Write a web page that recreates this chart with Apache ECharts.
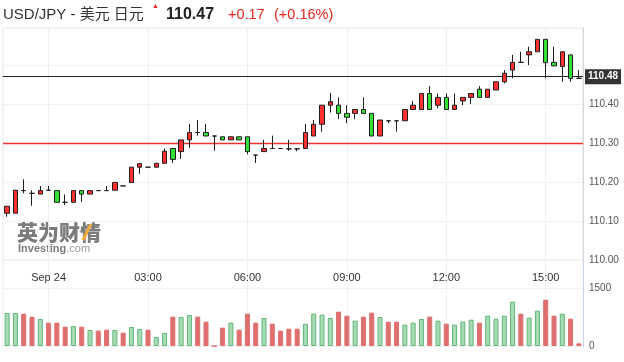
<!DOCTYPE html>
<html>
<head>
<meta charset="utf-8">
<script src="https://cdn.jsdelivr.net/npm/echarts@6/dist/echarts.min.js"></script>
<style>
html,body{margin:0;padding:0;background:#fff;}
#c{width:624px;height:362px;}
</style>
</head>
<body>
<div id="c"></div>
<script>
const times = ['22:45','23:00','23:15','23:30','23:45',
'00:00','00:15','00:30','00:45','01:00','01:15','01:30','01:45','02:00','02:15','02:30','02:45',
'03:00','03:15','03:30','03:45','04:00','04:15','04:30','04:45','05:00','05:15','05:30','05:45',
'06:00','06:15','06:30','06:45','07:00','07:15','07:30','07:45','08:00','08:15','08:30','08:45',
'09:00','09:15','09:30','09:45','10:00','10:15','10:30','10:45','11:00','11:15','11:30','11:45',
'12:00','12:15','12:30','12:45','13:00','13:15','13:30','13:45','14:00','14:15','14:30','14:45',
'15:00','15:15','15:30','15:45','16:00'];
const tickTimes = ['00:00','03:00','06:00','09:00','12:00','15:00'];
const dayLabel = 'Sep 24';

const open = [110.120,110.120,110.178,110.171,110.169,110.179,110.178,110.148,110.148,110.178,
110.169,110.178,110.178,110.179,110.190,110.199,110.238,110.238,110.238,110.248,
110.286,110.278,110.308,110.327,110.327,110.318,110.316,110.308,110.316,110.316,
110.269,110.278,110.286,110.286,110.285,110.285,110.286,110.318,110.348,110.397,
110.397,110.376,110.376,110.386,110.376,110.318,110.357,110.357,110.357,110.386,
110.386,110.427,110.397,110.417,110.386,110.408,110.417,110.438,110.417,110.436,
110.457,110.487,110.507,110.526,110.534,110.566,110.507,110.496,110.526,110.466];
const close = [110.138,110.179,110.178,110.171,110.178,110.179,110.148,110.148,110.178,110.169,
110.178,110.178,110.178,110.199,110.190,110.238,110.247,110.238,110.248,110.279,
110.258,110.308,110.327,110.327,110.318,110.318,110.308,110.316,110.308,110.278,
110.269,110.286,110.286,110.286,110.285,110.285,110.327,110.348,110.397,110.406,
110.376,110.366,110.386,110.376,110.318,110.359,110.357,110.357,110.386,110.397,
110.427,110.386,110.417,110.386,110.397,110.417,110.427,110.417,110.438,110.457,
110.479,110.507,110.507,110.534,110.566,110.506,110.498,110.534,110.466,110.466];
const low = [110.111,110.120,110.171,110.139,110.169,110.178,110.148,110.141,110.148,110.149,
110.169,110.178,110.178,110.179,110.190,110.199,110.221,110.238,110.238,110.248,
110.249,110.259,110.288,110.319,110.318,110.280,110.308,110.308,110.308,110.271,
110.249,110.278,110.286,110.286,110.280,110.279,110.286,110.318,110.329,110.378,
110.361,110.351,110.361,110.376,110.318,110.318,110.351,110.329,110.357,110.386,
110.386,110.386,110.389,110.386,110.386,110.397,110.400,110.417,110.417,110.436,
110.453,110.466,110.507,110.500,110.534,110.466,110.498,110.457,110.457,110.466];
const high = [110.138,110.179,110.207,110.179,110.190,110.190,110.178,110.168,110.178,110.178,
110.178,110.178,110.190,110.199,110.190,110.238,110.247,110.238,110.248,110.286,
110.286,110.308,110.349,110.359,110.349,110.318,110.316,110.316,110.316,110.316,
110.269,110.308,110.319,110.286,110.308,110.285,110.349,110.359,110.397,110.429,
110.417,110.397,110.386,110.417,110.376,110.359,110.357,110.357,110.386,110.408,
110.427,110.446,110.427,110.427,110.427,110.417,110.427,110.446,110.438,110.457,
110.487,110.526,110.534,110.547,110.566,110.566,110.547,110.534,110.526,110.487];

const volume = [853,853,836,759,698,603,603,500,517,500,
414,397,422,414,345,491,440,422,233,336,
759,750,802,759,629,0,474,603,422,836,
603,724,578,397,448,448,578,836,810,724,
888,784,655,759,862,750,629,629,552,603,
698,759,655,578,552,629,681,603,784,707,
784,1147,836,733,914,1198,784,836,707,69];
const volumeDir = ['g','g','r','r','g','r','r','r','g','r',
'g','r','r','g','r','g','g','r','g','g',
'r','g','g','r','r','r','r','g','r','r',
'r','g','r','r','r','r','g','g','g','g',
'r','r','g','r','r','g','r','r','g','g',
'g','r','g','r','g','g','g','r','g','g',
'g','g','r','g','g','r','r','g','r','r'];

const prevClose = 110.30;
const lastPrice = 110.467;
const lastLabel = '110.48';
const yTickLabels = [110.00,110.10,110.20,110.30,110.40];

const FONT = "'Liberation Sans', Arial, 'Noto Sans CJK SC', sans-serif";
const GRID_LINE = '#f0f0f0';

const candleData = open.map((o, i) => [o, close[i], low[i], high[i]]);
const volData = volume.map((v, i) => ({
  value: v,
  itemStyle: volumeDir[i] === 'g'
    ? { color: '#a6dbb3', borderColor: '#62b67b', borderWidth: 1 }
    : { color: '#df6f6f', borderColor: '#df6f6f', borderWidth: 1 }
}));

const isTick = (i, v) => tickTimes.indexOf(v) >= 0;

const chart = echarts.init(document.getElementById('c'), null, {renderer: 'canvas'});
chart.setOption({
  animation: false,
  backgroundColor: '#fff',
  textStyle: { fontFamily: FONT },
  grid: [
    { left: 3, right: 41, top: 28, bottom: 102, show: true, borderColor: '#e6e6e6', borderWidth: 1 },
    { left: 3, right: 41, top: 260, bottom: 16, show: true, borderColor: '#eeeeee', borderWidth: 1 }
  ],
  xAxis: [
    { type: 'category', gridIndex: 0, data: times, boundaryGap: true,
      axisLine: { show: false }, axisTick: { show: false },
      axisLabel: { interval: isTick, formatter: v => v === '00:00' ? dayLabel : v,
        fontSize: 11, color: '#333', margin: 12, fontFamily: FONT },
      splitLine: { show: true, interval: isTick, alignWithLabel: true, lineStyle: { color: GRID_LINE, width: 1 } } },
    { type: 'category', gridIndex: 1, data: times, boundaryGap: true,
      axisLine: { show: false }, axisTick: { show: false }, axisLabel: { show: false },
      splitLine: { show: true, interval: isTick, alignWithLabel: true, lineStyle: { color: GRID_LINE, width: 1 } } }
  ],
  yAxis: [
    { type: 'value', gridIndex: 0, position: 'right', min: 110.0, max: 110.595, interval: 0.1, scale: true,
      axisLine: { show: true, lineStyle: { color: '#d6d6d6' } }, axisTick: { show: false },
      axisLabel: { margin: 6, fontSize: 10, color: '#555', fontFamily: FONT,
        formatter: v => yTickLabels.some(t => Math.abs(t - v) < 1e-6) ? v.toFixed(2) : '' },
      splitLine: { show: true, lineStyle: { color: GRID_LINE, width: 1 } } },
    { type: 'value', gridIndex: 1, position: 'right', min: 0, max: 2224, interval: 1500,
      axisLine: { show: true, lineStyle: { color: '#ccd6eb' } }, axisTick: { show: false },
      axisLabel: { margin: 6, fontSize: 10, color: '#555', fontFamily: FONT, showMaxLabel: false,
        formatter: v => (v === 0 || v === 1500) ? String(v) : '' },
      splitLine: { show: true, lineStyle: { color: GRID_LINE } } }
  ],
  series: [
    { type: 'candlestick', xAxisIndex: 0, yAxisIndex: 0, data: candleData, barWidth: 5,
      itemStyle: { color: '#ff3030', color0: '#33e033', borderColor: '#1e1e1e', borderColor0: '#1e1e1e',
        borderColorDoji: '#1e1e1e', borderWidth: 1 },
      markLine: { symbol: 'none', silent: true, animation: false, z: 1,
        data: [
          { yAxis: prevClose, lineStyle: { color: '#ee3333', width: 1.3, type: 'solid' }, label: { show: false } },
          { yAxis: lastPrice, lineStyle: { color: '#222', width: 1, type: 'solid' },
            label: { show: true, position: 'end', formatter: lastLabel, distance: 2,
              backgroundColor: '#333', color: '#fff', fontSize: 10, fontWeight: 'bold',
              padding: [3, 3, 2, 3], fontFamily: FONT } }
        ] } },
    { type: 'bar', xAxisIndex: 1, yAxisIndex: 1, data: volData, barWidth: 5 }
  ],
  graphic: [
    { type: 'text', x: 3, y: 15, style: { text: 'USD/JPY - 美元 日元', font: "15px " + FONT, fill: '#333', textVerticalAlign: 'middle' } },
    { type: 'text', x: 152, y: 6, style: { text: '▲', font: "7px " + FONT, fill: '#e22', textVerticalAlign: 'middle' } },
    { type: 'text', x: 166, y: 15, style: { text: '110.47', font: "bold 16px " + FONT, fill: '#222', textVerticalAlign: 'middle' } },
    { type: 'text', x: 228, y: 15, style: { text: '+0.17', font: "14.5px " + FONT, fill: '#e8261f', textVerticalAlign: 'middle' } },
    { type: 'text', x: 274, y: 15, style: { text: '(+0.16%)', font: "14.5px " + FONT, fill: '#e8261f', textVerticalAlign: 'middle' } },
    { type: 'text', x: 17, y: 232, style: { text: '英为财情', font: "900 21px 'Noto Sans CJK SC', sans-serif", fill: '#7c7c7c', textVerticalAlign: 'middle' } },
    { type: 'line', z: 100, shape: { x1: 83, y1: 240, x2: 91, y2: 224 }, style: { stroke: '#f2a93b', lineWidth: 3 } },
    { type: 'text', x: 18, y: 249, style: { text: '{a|Investing}{b|.com}', textVerticalAlign: 'middle',
        rich: { a: { font: "bold 11px " + FONT, fill: '#7c7c7c' }, b: { font: "11px " + FONT, fill: '#9a9a9a' } } } }
  ]
});
</script>
</body>
</html>
